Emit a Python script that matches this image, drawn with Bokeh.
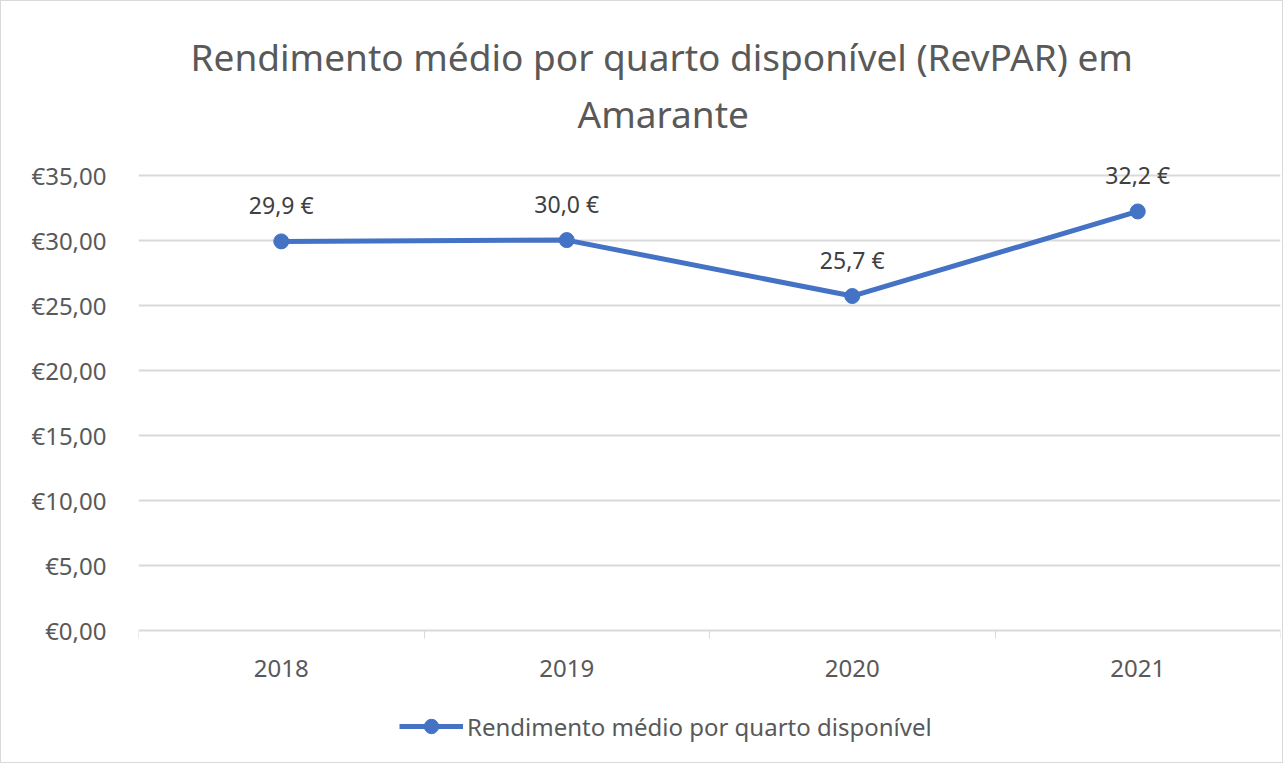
from bokeh.plotting import figure
from bokeh.models import (ColumnDataSource, FixedTicker, LabelSet, Legend, LegendItem,
                          Title, Range1d)
from bokeh.core.properties import value
from bokeh.embed import file_html
from bokeh.resources import INLINE

# ---- data ----
categories = ["2018", "2019", "2020", "2021"]
revpar = [29.9, 30.0, 25.7, 32.2]
value_labels = ["29,9 €", "30,0 €", "25,7 €", "32,2 €"]
y_ticks = [0, 5, 10, 15, 20, 25, 30, 35]
y_tick_labels = ["€0,00", "€5,00", "€10,00", "€15,00", "€20,00", "€25,00", "€30,00", "€35,00"]
title_line1 = "Rendimento médio por quarto disponível (RevPAR) em"
title_line2 = "Amarante"
series_name = "Rendimento médio por quarto disponível"

FONT = "Noto Sans"
TXT = "#595959"
BLUE = "#4472C4"
GRID = "#d9d9d9"

xs = [i + 0.5 for i in range(len(categories))]
src = ColumnDataSource(dict(x=xs, y=revpar, lab=value_labels))

p = figure(frame_width=1142, frame_height=618, output_backend="svg", toolbar_location=None,
           x_range=Range1d(0, len(categories)), y_range=Range1d(-10, 37.5),
           min_border_left=137, min_border_right=2, min_border_top=141,
           min_border_bottom=2)
p.title = None
p.outline_line_color = None
p.background_fill_color = "white"
p.border_fill_color = "white"
p.styles = {"border": "1px solid #d9d9d9"}

# titles (first added is closest to the frame)
p.add_layout(Title(text=title_line2, align="left", text_font=FONT,
                   text_font_size="37px", text_font_style="normal", text_color=TXT,
                   standoff=8, offset=439), "above")
p.add_layout(Title(text=title_line1, align="left", text_font=FONT,
                   text_font_size="37px", text_font_style="normal", text_color=TXT,
                   standoff=0, offset=52), "above")

# y axis
p.yaxis.ticker = FixedTicker(ticks=y_ticks)
p.yaxis.major_label_overrides = {t: l for t, l in zip(y_ticks, y_tick_labels)}
p.yaxis.axis_line_color = None
p.yaxis.major_tick_line_color = None
p.yaxis.minor_tick_line_color = None
p.yaxis.major_label_text_font = FONT
p.yaxis.major_label_text_font_size = "24px"
p.yaxis.major_label_text_color = TXT
p.yaxis.major_label_standoff = 26

# x axis, drawn at y = 0 inside the frame
p.xaxis.fixed_location = 0
p.xaxis.ticker = FixedTicker(ticks=xs, minor_ticks=list(range(len(categories) + 1)))
p.xaxis.major_label_overrides = {x: c for x, c in zip(xs, categories)}
p.xaxis.axis_line_color = GRID
p.xaxis.axis_line_width = 2
p.xaxis.major_tick_line_color = None
p.xaxis.minor_tick_line_color = GRID
p.xaxis.minor_tick_line_width = 1
p.xaxis.minor_tick_out = 8
p.xaxis.minor_tick_in = 0
p.xaxis.major_label_text_font = FONT
p.xaxis.major_label_text_font_size = "24px"
p.xaxis.major_label_text_color = TXT
p.xaxis.major_label_standoff = 22

p.xgrid.grid_line_color = None
p.ygrid.ticker = FixedTicker(ticks=y_ticks[1:])
p.ygrid.grid_line_color = GRID
p.ygrid.grid_line_width = 2

line = p.line("x", "y", source=src, line_color=BLUE, line_width=5)
pts = p.scatter("x", "y", source=src, size=15, fill_color=BLUE, line_color=BLUE)

labels = LabelSet(x="x", y="y", text="lab", source=src, text_align="center",
                  text_baseline="middle", y_offset=36, text_font=value(FONT),
                  text_font_size="23px", text_color="#404040")
p.add_layout(labels)

legend = Legend(items=[LegendItem(label=series_name, renderers=[line, pts])],
                orientation="horizontal", location=(261, 16),
                label_text_font=FONT, label_text_font_size="24px", label_text_color=TXT,
                border_line_color=None, background_fill_alpha=0,
                glyph_width=64, glyph_height=36, label_standoff=4, margin=0, padding=4)
p.add_layout(legend, "center")

open("out.html", "w").write(file_html(p, INLINE))
